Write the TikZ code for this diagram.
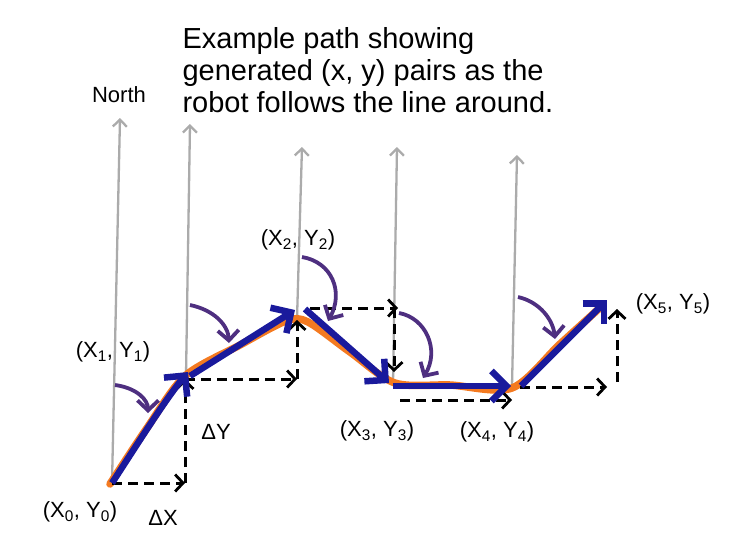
\documentclass[tikz,border=0pt]{standalone}
\usepackage{fontspec}
\setmainfont{Liberation Sans}
\usetikzlibrary{arrows.meta}

\definecolor{robotblue}{HTML}{1A1A9C}
\definecolor{lineorange}{HTML}{F47A20}
\definecolor{turnpurple}{HTML}{4E2F80}
\definecolor{northgray}{HTML}{ABABAB}

\newcommand{\xypair}[1]{(X\textsubscript{#1}, Y\textsubscript{#1})}

\tikzset{
    north/.style={draw=northgray, line width=2.3pt, -{Straight Barb[length=7pt,width=14pt,line width=2.3pt]}},
    heading/.style={draw=robotblue, line width=6.5pt, -{Straight Barb[length=15pt,width=30pt,line width=6.5pt]}},
    delta/.style={draw=black, line width=3pt, dash pattern=on 10pt off 6pt, -{Straight Barb[length=8pt,width=17pt,line width=2.8pt]}},
    turn/.style={draw=turnpurple, line width=3.8pt, -{Straight Barb[length=10pt,width=21pt,line width=3.8pt]}},
    label/.style={font=\fontsize{22}{24}\selectfont}
}

\begin{document}
\begin{tikzpicture}[x=1pt,y=-1pt]
    \useasboundingbox (0,0) rectangle (749,549);

    % points along the line
    \coordinate (p0) at (112,483);
    \coordinate (p1) at (186,376);
    \coordinate (p2) at (297,319);
    \coordinate (p3) at (393,383);
    \coordinate (p4) at (512,386);
    \coordinate (p5) at (607,300);

    % north arrows
    \coordinate (n0) at (120,118);
    \coordinate (n1) at (190,124);
    \coordinate (n2) at (302,147);
    \coordinate (n3) at (397,147);
    \coordinate (n4) at (517,155);
    \draw[north] (p0) -- (n0);
    \draw[north] (p1) -- (n1);
    \draw[north] (p2) -- (n2);
    \draw[north] (p3) -- (n3);
    \draw[north] (p4) -- (n4);

    % the line the robot follows
    \draw[lineorange, line width=7.5pt, line cap=round] plot[smooth, tension=0.5] coordinates
        {(110,484) (147,428) (185,376) (240,345) (286,321) (308,322) (350,352) (395,383) (450,385) (512,388) (560,344) (603,305)};

    % delta x / delta y steps
    \coordinate (d0) at (185,483);
    \coordinate (d1) at (185,379);
    \coordinate (d2) at (297,379);
    \coordinate (d2a) at (297,320);
    \coordinate (d3) at (310,308);
    \coordinate (d3a) at (398,308);
    \coordinate (d3b) at (394,308);
    \coordinate (d3c) at (394,372);
    \coordinate (d4) at (400,400);
    \coordinate (d4a) at (512,400);
    \coordinate (d5) at (520,387);
    \coordinate (d5a) at (607,387);
    \coordinate (d5b) at (617,382);
    \coordinate (d5c) at (617,309);
    \draw[delta] (p0) -- (d0);
    \draw[delta] (d0) -- (d1);
    \draw[delta] (d1) -- (d2);
    \draw[delta] (d2) -- (d2a);
    \draw[delta] (d3) -- (d3a);
    \draw[delta] (d3b) -- (d3c);
    \draw[delta] (d4) -- (d4a);
    \draw[delta] (d5) -- (d5a);
    \draw[delta] (d5b) -- (d5c);

    % robot headings
    \coordinate (h1) at (188,372);
    \coordinate (h2s) at (190,376);
    \coordinate (h2) at (295,310);
    \coordinate (h3s) at (305,309);
    \coordinate (h3) at (389,383);
    \coordinate (h4s) at (393,386);
    \coordinate (h4) at (511,386);
    \coordinate (h5s) at (521,386);
    \draw[heading] (p0) .. controls (140,440) and (165,400) .. (h1);
    \draw[heading] (h2s) -- (h2);
    \draw[heading] (h3s) -- (h3);
    \draw[heading] (h4s) -- (h4);
    \draw[heading] (h5s) -- (p5);

    % turn angles from north
    \coordinate (t0) at (115,385);
    \coordinate (t0e) at (148,413);
    \coordinate (t1) at (190,305);
    \coordinate (t1e) at (229,343);
    \coordinate (t2) at (302,257);
    \coordinate (t2e) at (328,321);
    \coordinate (t3) at (399,313);
    \coordinate (t3e) at (423,378);
    \coordinate (t4) at (518,297);
    \coordinate (t4e) at (555,339);
    \draw[turn] (t0) .. controls (137,388) and (148,400) .. (t0e);
    \draw[turn] (t1) .. controls (214,310) and (228,325) .. (t1e);
    \draw[turn] (t2) .. controls (332,262) and (344,292) .. (t2e);
    \draw[turn] (t3) .. controls (426,318) and (440,350) .. (t3e);
    \draw[turn] (t4) .. controls (540,302) and (553,320) .. (t4e);

    % labels
    \node[label] (lnorth) at (119,95) {North};
    \node[label] (l0) at (80,512) {\xypair{0}};
    \node[label] (l1) at (113,352) {\xypair{1}};
    \node[label] (l2) at (298,240) {\xypair{2}};
    \node[label] (l3) at (377,431) {\xypair{3}};
    \node[label] (l4) at (497,432) {\xypair{4}};
    \node[label] (l5) at (673,304) {\xypair{5}};
    \node[label] (ldx) at (163,518) {ΔX};
    \node[label] (ldy) at (216,432) {ΔY};
    \node[anchor=west, align=left, font=\fontsize{29}{32}\selectfont] (title) at (179,70)
        {Example path showing\\generated (x, y) pairs as the\\robot follows the line around.};
\end{tikzpicture}
\end{document}
